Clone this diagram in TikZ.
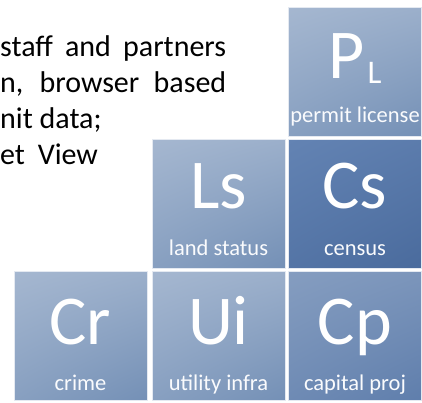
\documentclass[tikz,border=0pt]{standalone}
\usepackage{fontspec}
\setmainfont{Carlito}
\usepackage{tikz}
\usetikzlibrary{shadings}

\definecolor{tilelt}{HTML}{A5B7D0}
\definecolor{tiledk}{HTML}{7490B6}
\definecolor{cslt}{HTML}{6383B3}
\definecolor{csdk}{HTML}{4A6B9D}
\definecolor{cplt}{HTML}{859DC0}
\definecolor{cpdk}{HTML}{5F7EAC}

\tikzset{
  tile/.style={rectangle, draw=white!70!tilelt, line width=0.8pt,
    minimum width=133pt, minimum height=129pt, inner sep=0pt},
  plain tile/.style={tile, upper left=tilelt, upper right=tilelt!80!tiledk,
    lower left=tilelt!40!tiledk, lower right=tiledk},
  dark tile/.style={tile, upper left=cslt, upper right=cslt!70!csdk,
    lower left=cslt!40!csdk, lower right=csdk},
  mid tile/.style={tile, upper left=cplt, upper right=cplt!75!cpdk,
    lower left=cplt!40!cpdk, lower right=cpdk},
  symb/.style={anchor=base, inner sep=0pt, text=white,
    font=\fontsize{70}{70}\selectfont},
  caption/.style={anchor=base, inner sep=0pt, text=white!95!tilelt,
    font=\fontsize{22.5}{22.5}\selectfont},
  body/.style={anchor=base west, inner sep=0pt,
    font=\fontsize{30}{30}\selectfont}
}

\begin{document}
\begin{tikzpicture}[x=1pt,y=-1pt]

  % keep the page the size of the picture
  \useasboundingbox (0,0) rectangle (422,402);

  % Paragraph text on the left
  \node[body] (line1) at (0,56) {\makebox[226pt][s]{staff and partners}};
  \node[body] (line2) at (0,92) {\makebox[226pt][s]{n, browser based}};
  \node[body] (line3) at (0,128) {nit data;};
  \node[body] (line4) at (0,164) {et\hspace{6pt} View};

  % Tiles, top row
  \node[plain tile] (pl) at (355,72) {};

  % middle row
  \node[plain tile] (ls) at (218.5,204) {};
  \node[dark tile]  (cs) at (355,204) {};

  % bottom row
  \node[plain tile] (cr) at (80.5,336) {};
  \node[plain tile] (ui) at (218.5,336) {};
  \node[mid tile]   (cp) at (355,336) {};

  % Symbols and captions
  \node[symb] (pl-sym) at ([yshift=-6pt]pl.center)
    {P\hspace{3pt}\raisebox{-5pt}{\fontsize{33}{33}\selectfont L}};
  \node[caption] (pl-cap) at ([yshift=-50pt]pl.center) {permit license};

  \node[symb] (ls-sym) at ([yshift=-4pt]ls.center) {Ls};
  \node[caption] (ls-cap) at ([yshift=-51pt]ls.center) {land status};

  \node[symb] (cs-sym) at ([yshift=-4pt]cs.center) {Cs};
  \node[caption] (cs-cap) at ([yshift=-51pt]cs.center) {census};

  \node[symb] (cr-sym) at ([yshift=-8pt]cr.center) {Cr};
  \node[caption] (cr-cap) at ([yshift=-54pt]cr.center) {crime};

  \node[symb] (ui-sym) at ([yshift=-8pt]ui.center) {Ui};
  \node[caption] (ui-cap) at ([yshift=-54pt]ui.center) {utility infra};

  \node[symb] (cp-sym) at ([yshift=-8pt]cp.center) {Cp};
  \node[caption] (cp-cap) at ([yshift=-54pt]cp.center) {capital proj};

\end{tikzpicture}
\end{document}
